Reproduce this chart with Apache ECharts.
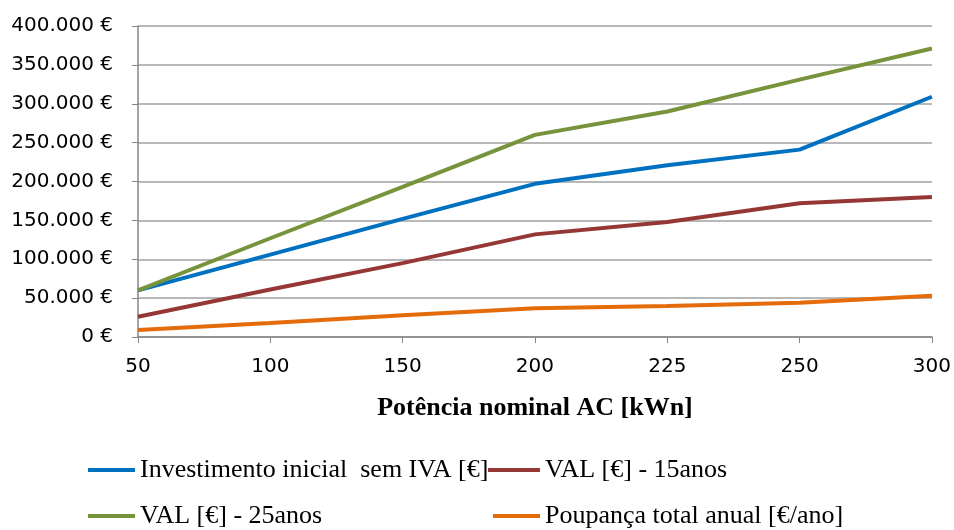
<!DOCTYPE html>
<html><head><meta charset="utf-8">
<script src="https://cdn.jsdelivr.net/npm/echarts@6/dist/echarts.min.js"></script>
<style>html,body{margin:0;padding:0;background:#fff}#c{width:954px;height:530px}</style>
</head><body><div id="c"></div>
<script>
var categories = ['50','100','150','200','225','250','300'];
var investimento = [60000, 106000, 152000, 197000, 221000, 241000, 309000];
var val15 = [26000, 61000, 95000, 132000, 148000, 172000, 180000];
var val25 = [60000, 127000, 193000, 260000, 290000, 331000, 371000];
var poupanca = [9000, 18000, 28000, 37000, 40000, 44000, 53000];
var names = ['Investimento inicial  sem IVA [€]', 'VAL [€] - 15anos', 'VAL [€] - 25anos', 'Poupança total anual [€/ano]'];
var colors = ['#0070C0', '#953735', '#77933C', '#E46C0A'];

var serif = '"Liberation Serif", "Times New Roman", serif';
var sans = '"DejaVu Sans", Verdana, sans-serif';
function fmt(v){ return String(v).replace(/\B(?=(\d{3})+(?!\d))/g, '.') + ' €'; }
var chart = echarts.init(document.getElementById('c'));
var seriesData = [investimento, val15, val25, poupanca];
function leg(name, left, top, w){
  return {
    left: left, top: top, itemWidth: w, itemHeight: 4, icon: 'rect', data: [name], padding: 0,
    textStyle: {fontFamily: serif, fontSize: 26, lineHeight: 26, color: '#000'},
    selectedMode: false
  };
}
chart.setOption({
  animation: false,
  color: colors,
  grid: {left: 138, right: 22, top: 26, bottom: 193},
  legend: [
    leg(names[0], 88, 457, 47),
    leg(names[1], 488, 457, 52),
    leg(names[2], 88, 503, 47),
    leg(names[3], 493, 503, 47)
  ],
  xAxis: {
    type: 'category', data: categories, boundaryGap: false,
    name: 'Potência nominal AC [kWn]', nameLocation: 'middle', nameGap: 58,
    nameTextStyle: {fontFamily: serif, fontSize: 26, fontWeight: 'bold', color: '#000'},
    axisLine: {lineStyle: {color: '#868686', width: 1.5}},
    axisTick: {show: true, alignWithLabel: true, length: 6, lineStyle: {color: '#868686'}},
    axisLabel: {fontFamily: sans, fontSize: 20, color: '#000', margin: 20},
    splitLine: {show: false}
  },
  yAxis: {
    type: 'value', min: 0, max: 400000, interval: 50000,
    axisLine: {show: true, lineStyle: {color: '#868686', width: 1.5}},
    axisTick: {show: true, length: 6, lineStyle: {color: '#868686'}},
    axisLabel: {fontFamily: sans, fontSize: 20, color: '#000', margin: 25, formatter: fmt},
    splitLine: {lineStyle: {color: '#A0A0A0', width: 1.5}}
  },
  series: seriesData.map(function(d, i){
    return {name: names[i], type: 'line', data: d, symbol: 'none', lineStyle: {width: 4, color: colors[i]}, itemStyle: {color: colors[i]}};
  })
});
</script></body></html>
